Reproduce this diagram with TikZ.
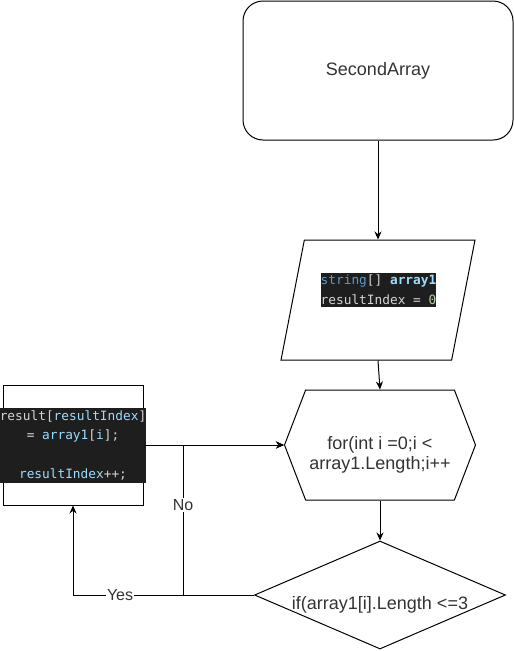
\documentclass[tikz,border=0pt]{standalone}
\usepackage{fontspec}
\setmainfont{Liberation Sans}
\setmonofont{DejaVu Sans Mono}
\usetikzlibrary{shapes.geometric,shapes.symbols,arrows.meta}
\definecolor{codebg}{HTML}{1E1E1E}
\definecolor{codekw}{HTML}{569CD6}
\definecolor{codevar}{HTML}{9CDCFE}
\definecolor{codetxt}{HTML}{D4D4D4}
\definecolor{codenum}{HTML}{B5CEA8}
\begin{document}
\begin{tikzpicture}[x=1pt,y=-1pt,line width=1pt,>={Stealth[length=8pt,width=7pt]},
  every node/.style={font=\fontsize{18}{20}\selectfont,text=black!80},
  code/.style={fill=codebg,font=\ttfamily\fontsize{12.8}{19.6}\selectfont,text=codetxt,inner xsep=0pt,inner ysep=2pt}]
  \useasboundingbox (0,0) rectangle (514,651);
  \node[draw,rounded corners=20pt,minimum width=270pt,minimum height=139pt] (start) at (378,70.5) {SecondArray};
  \node[draw,trapezium,trapezium left angle=81,trapezium right angle=99,trapezium stretches=true,
    minimum width=194pt,minimum height=120pt,inner sep=2pt] (init) at (378,300) {};
  \node[code,align=left] (initcode) at (378.5,290) {\textcolor{codekw}{string}[] \textcolor{codevar}{\bfseries array1}\\resultIndex = \textcolor{codenum}{0}};
  \node[draw,signal,signal to=east and west,signal pointer angle=138,minimum width=191pt,minimum height=110pt,inner sep=2pt,
    label={[align=center,yshift=-10pt]center:for(int i =0;i <\\array1.Length;i++}] (loop) at (380,445) {};
  \node[draw,diamond,minimum width=251pt,minimum height=108pt,inner sep=2pt,
    label={[yshift=-10pt]center:if(array1[i].Length <=3}] (cond) at (380,595) {};
  \node[draw,minimum width=140pt,minimum height=120pt] (upd) at (73,445) {};
  \node[code,align=center,minimum width=146pt,minimum height=75pt] (updcode) at (73,445.5) {result[\textcolor{codevar}{resultIndex}]\\= \textcolor{codevar}{array1}[\textcolor{codevar}{i}];\\\mbox{}\\\textcolor{codevar}{resultIndex}++;};
  \coordinate (nojoin) at (183,445);
  \draw[->] (start.south) -- (init.north);
  \draw[->] (init.south) -- (loop.north);
  \draw[->] (loop.south) -- (cond.north);
  \draw[->] (upd.east) -- (loop.west);
  \draw[->] (cond.west) -| (upd.south) node[pos=0.37,fill=white,inner sep=1pt,font=\fontsize{16}{18}\selectfont] {Yes};
  \draw[->] (cond.west) -| (nojoin) node[pos=0.8,fill=white,inner sep=1pt,font=\fontsize{16}{18}\selectfont] {No} -- (loop.west);
\end{tikzpicture}
\end{document}
